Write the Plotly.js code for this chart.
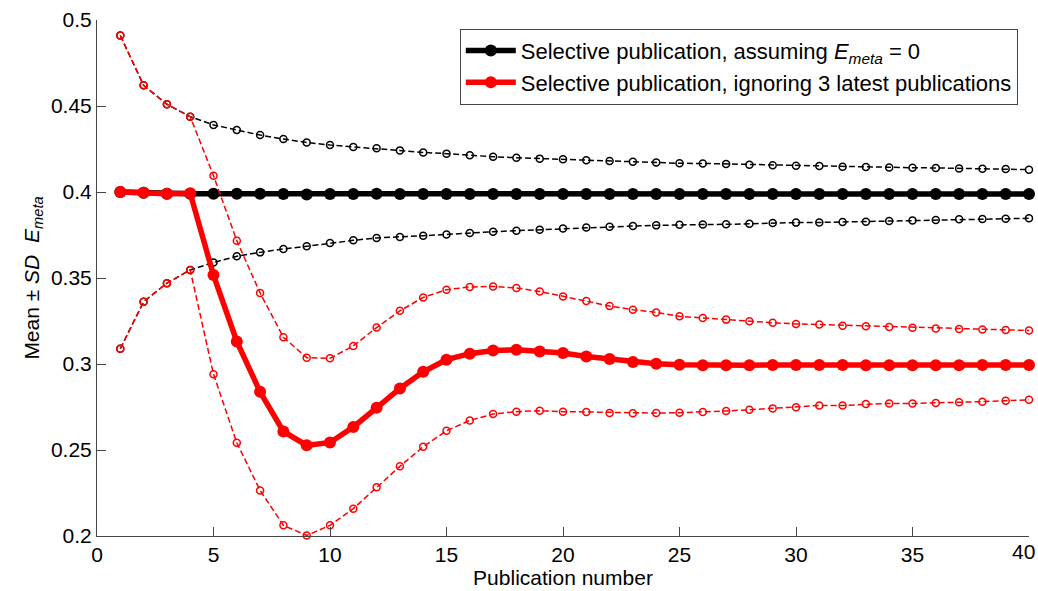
<!DOCTYPE html>
<html>
<head>
<meta charset="utf-8">
<script src="https://cdn.plot.ly/plotly-3.0.1.min.js"></script>
<style>html,body{margin:0;padding:0;background:#fff;}#chart{width:1038px;height:591px;}</style>
</head>
<body>
<div id="chart"></div>
<script>
const pubNumber = Array.from({length: 40}, (_, i) => i + 1);

const blackMean = [0.400,0.3995,0.399,0.399,0.399,0.399,0.399,0.3988,0.3986,0.3988,0.3988,0.399,0.3988,0.3988,0.3988,0.3988,0.3988,0.3988,0.3988,0.3988,0.3988,0.3988,0.3988,0.3988,0.3988,0.3988,0.3988,0.3988,0.3988,0.3988,0.3988,0.3988,0.3988,0.3988,0.3988,0.3988,0.3988,0.3988,0.3988,0.3988];
const blackUpper = [0.491,0.462,0.451,0.4438,0.439,0.436,0.4331,0.4308,0.4288,0.4273,0.4262,0.4254,0.4242,0.4230,0.4223,0.4213,0.4205,0.4199,0.4194,0.4190,0.4184,0.4180,0.4176,0.4172,0.4167,0.4166,0.4163,0.4159,0.4155,0.4153,0.4151,0.4147,0.4145,0.4143,0.4141,0.4140,0.4137,0.4135,0.4134,0.4130];
const blackLower = [0.3089,0.3362,0.347,0.3547,0.359,0.3626,0.3649,0.3669,0.3684,0.3703,0.3719,0.3733,0.3738,0.3746,0.3753,0.3762,0.3769,0.3775,0.3781,0.3788,0.3794,0.3798,0.3802,0.3806,0.3810,0.3811,0.3812,0.3816,0.3820,0.3822,0.3823,0.3826,0.3827,0.3831,0.3835,0.3837,0.3841,0.3843,0.3845,0.3847];

const redMean = [0.400,0.3995,0.399,0.3993,0.3517,0.3131,0.2838,0.2608,0.2527,0.2544,0.2634,0.2745,0.2858,0.2955,0.3025,0.306,0.3079,0.3083,0.3073,0.3064,0.3044,0.3029,0.3012,0.3002,0.2996,0.2993,0.2993,0.2993,0.2994,0.2994,0.2994,0.2994,0.2993,0.2993,0.2993,0.2993,0.2993,0.2994,0.2994,0.2994];
const redUpper = [0.491,0.462,0.451,0.4438,0.4095,0.3717,0.3413,0.3155,0.3037,0.3033,0.3105,0.3212,0.3309,0.3387,0.3432,0.3448,0.3451,0.3442,0.3422,0.3393,0.3366,0.3337,0.3316,0.3300,0.3277,0.3267,0.3258,0.3248,0.3240,0.3233,0.3229,0.3223,0.3219,0.3215,0.3211,0.3207,0.3203,0.3201,0.3198,0.3195];
const redLower = [0.3089,0.3362,0.347,0.3547,0.2941,0.2542,0.2265,0.2062,0.2003,0.2062,0.2159,0.2283,0.2405,0.2519,0.2612,0.2672,0.2709,0.2723,0.2728,0.2723,0.2721,0.2715,0.2713,0.2715,0.2717,0.2721,0.2727,0.2734,0.2742,0.2748,0.2759,0.2759,0.2767,0.2771,0.2771,0.2773,0.2777,0.2781,0.2787,0.2792];

const seriesNames = ['Selective publication, assuming <i>E</i><sub><i>meta</i></sub> = 0',
                     'Selective publication, ignoring 3 latest publications'];
const xTicks = [0,5,10,15,20,25,30,35,40];
const xTickText = ['0','5','10','15','20','25','30','35','40'];
const yTicks = [0.2,0.25,0.3,0.35,0.4,0.45,0.5];
const yTickText = ['0.2','0.25','0.3','0.35','0.4','0.45','0.5'];

const BLACK = '#000000', RED = '#ff0000';

function meanTrace(y, color, name) {
  return {x: pubNumber, y: y, name: name, type: 'scatter', mode: 'lines+markers',
    line: {color: color, width: 5.5}, marker: {color: color, size: 12, symbol: 'circle'},
    cliponaxis: false, showlegend: true};
}
function sdTrace(y, color) {
  return {x: pubNumber, y: y, type: 'scatter', mode: 'lines+markers',
    line: {color: color, width: 1.5, dash: '6px,3px'},
    marker: {color: color, size: 7, symbol: 'circle-open', line: {color: color, width: 1.5}},
    cliponaxis: false, showlegend: false, hoverinfo: 'skip'};
}

const data = [
  meanTrace(blackMean, BLACK, seriesNames[0]),
  sdTrace(blackUpper, BLACK),
  sdTrace(blackLower, BLACK),
  meanTrace(redMean, RED, seriesNames[1]),
  sdTrace(redUpper, RED),
  sdTrace(redLower, RED)
];

// the last x tick label sits at the right edge of the page: draw it right-aligned so it stays inside
const lastIdx = xTicks.length - 1;
const shownXTickText = xTickText.map((t, i) => i === lastIdx ? '' : t);

const FONT = 'Liberation Sans, Arial, Helvetica, sans-serif';
const layout = {
  width: 1038, height: 591,
  margin: {l: 97, r: 9, t: 20, b: 55},
  paper_bgcolor: '#ffffff', plot_bgcolor: '#ffffff',
  font: {family: FONT, size: 21, color: '#000'},
  showlegend: true,
  legend: {x: 0.988, y: 0.983, xanchor: 'right', yanchor: 'top',
    bgcolor: '#ffffff', bordercolor: '#444', borderwidth: 1, itemwidth: 50,
    font: {family: FONT, size: 22, color: '#000'}, tracegroupgap: 0},
  xaxis: {range: [0, 40], tickvals: xTicks, ticktext: shownXTickText, ticks: 'inside', ticklen: 9, tickcolor: '#444',
    showline: true, linecolor: '#444', linewidth: 1, showgrid: false, zeroline: false,
    tickfont: {family: FONT, size: 21, color: '#000'},
    title: {text: 'Publication number', font: {family: FONT, size: 21, color: '#000'}, standoff: 4}},
  yaxis: {range: [0.2, 0.5], tickvals: yTicks, ticktext: yTickText, ticks: 'inside', ticklen: 9, tickcolor: '#444',
    showline: true, linecolor: '#444', linewidth: 1, showgrid: false, zeroline: false,
    tickfont: {family: FONT, size: 21, color: '#000'},
    title: {text: 'Mean ± <i>SD</i>  <i>E</i><sub><i>meta</i></sub>', font: {family: FONT, size: 21, color: '#000'}, standoff: 5}},
  annotations: [{
    x: xTicks[lastIdx], xref: 'x', y: 0, yref: 'paper', text: xTickText[lastIdx],
    xanchor: 'right', yanchor: 'top', xshift: 7, yshift: -3, showarrow: false,
    borderpad: 0, font: {family: FONT, size: 21, color: '#000'}
  }]
};

Plotly.newPlot('chart', data, layout, {displayModeBar: false, staticPlot: true});
</script>
</body>
</html>
